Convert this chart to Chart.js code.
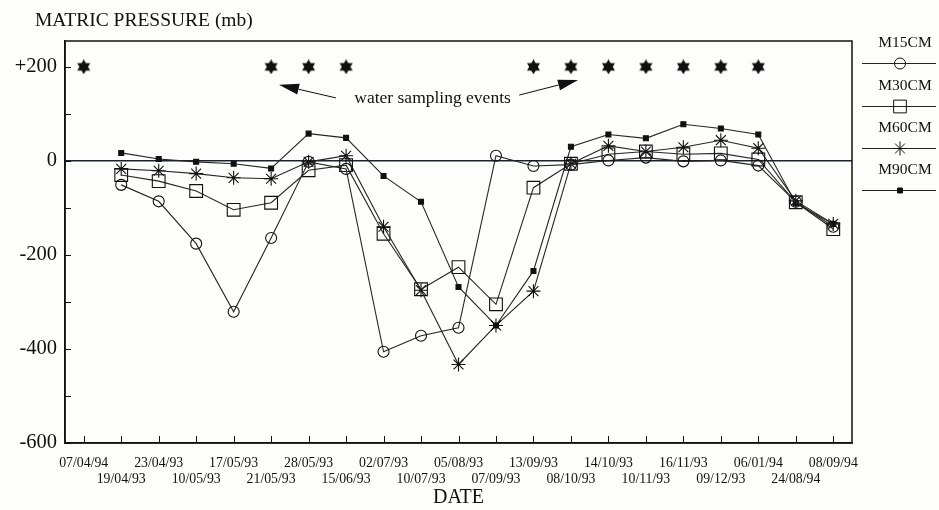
<!DOCTYPE html>
<html>
<head>
<meta charset="utf-8">
<script src="https://cdn.jsdelivr.net/npm/chart.js@4.4.0/dist/chart.umd.min.js"></script>
<style>
  html, body { margin: 0; padding: 0; background: #fdfdfb; }
  #wrap { width: 939px; height: 510px; }
</style>
</head>
<body>
<div id="wrap"><canvas id="linechart" width="939" height="510"></canvas></div>
<script>
// sampling dates (category axis)
var dates = ["07/04/94", "19/04/93", "23/04/93", "10/05/93", "17/05/93", "21/05/93", "28/05/93",
             "15/06/93", "02/07/93", "10/07/93", "05/08/93", "07/09/93", "13/09/93", "08/10/93",
             "14/10/93", "10/11/93", "16/11/93", "09/12/93", "06/01/94", "24/08/94", "08/09/94"];

// matric pressure (mb)
var m15 = [null, -51, -86, -176, -321, -164, -2, -17, -406, -372, -355, 11, -11, -8, 1, 7, -1, 1, -10, -87, -140];
var m30 = [null, -30, -43, -64, -104, -89, -20, -9, -155, -273, -226, -305, -57, -6, 14, 20, 14, 16, 3, -88, -145];
var m60 = [null, -17, -21, -27, -36, -38, -2, 11, -140, -275, -433, -350, -277, -6, 32, 20, 29, 44, 27, -85, -134];
var m90 = [null, 17, 4, -2, -6, -16, 58, 49, -32, -87, -268, -350, -234, 30, 56, 48, 78, 69, 56, -90, -134];

// water sampling events
var sampling = [200, null, null, null, null, 200, 200, 200, null, null, null, null,
                200, 200, 200, 200, 200, 200, 200, null, null];

var yTicks = [-600, -500, -400, -300, -200, -100, 0, 100, 200];

var serif = "'Liberation Serif', 'Times New Roman', serif";
var ink = "#101010";

// six pointed star for the sampling events
function makeStar(size) {
  var c = document.createElement("canvas");
  c.width = c.height = size;
  var g = c.getContext("2d");
  var r = size / 2;
  g.fillStyle = ink;
  [-90, 90].forEach(function(start) {
    g.beginPath();
    for (var j = 0; j < 3; j++) {
      var a = (start + j * 120) * Math.PI / 180;
      var px = r + r * Math.cos(a), py = r + r * Math.sin(a);
      if (j === 0) g.moveTo(px, py); else g.lineTo(px, py);
    }
    g.closePath();
    g.fill();
  });
  return c;
}
var starImg = makeStar(15);

function series(label, data, style, radius, fill) {
  return {
    label: label,
    data: data,
    borderColor: "#252525",
    borderWidth: 1.1,
    pointStyle: style,
    pointRadius: radius,
    pointHoverRadius: radius,
    pointBorderColor: ink,
    pointBorderWidth: 1.1,
    pointBackgroundColor: fill,
    tension: 0
  };
}

var bgPlugin = {
  id: "bg",
  beforeDraw: function(chart) {
    var c = chart.ctx;
    c.save();
    c.fillStyle = "#fdfdfb";
    c.fillRect(0, 0, chart.width, chart.height);
    c.restore();
  }
};

var decorPlugin = {
  id: "decor",
  afterDraw: function(chart) {
    var c = chart.ctx, a = chart.chartArea;
    var xs = chart.scales.x, ys = chart.scales.y;
    c.save();

    // frame
    c.strokeStyle = ink;
    c.lineWidth = 1.5;
    c.strokeRect(a.left, a.top, a.right - a.left, a.bottom - a.top);

    // inward tick marks
    c.lineWidth = 1;
    c.beginPath();
    for (var i = 0; i < dates.length; i++) {
      var px = Math.round(xs.getPixelForValue(i)) + 0.5;
      c.moveTo(px, a.bottom);
      c.lineTo(px, a.bottom - 7);
    }
    yTicks.forEach(function(v) {
      var py = Math.round(ys.getPixelForValue(v)) + 0.5;
      c.moveTo(a.left, py);
      c.lineTo(a.left + 6, py);
    });
    c.stroke();

    // title
    c.fillStyle = ink;
    c.font = "19.5px " + serif;
    c.textAlign = "left";
    c.textBaseline = "middle";
    c.fillText("MATRIC PRESSURE (mb)", 35, 21);

    // annotation
    c.font = "17.5px " + serif;
    c.textBaseline = "middle";
    var tx = xs.getPixelForValue(7.22), ty = ys.getPixelForValue(132);
    c.fillText("water sampling events", tx, ty);
    arrow(c, xs.getPixelForValue(6.73), ys.getPixelForValue(134), xs.getPixelForValue(5.21), ys.getPixelForValue(162));
    arrow(c, xs.getPixelForValue(11.62), ys.getPixelForValue(140), xs.getPixelForValue(13.19), ys.getPixelForValue(172));

    // legend: label above a line sample
    var lx0 = 862, lx1 = 936, mx = 900;
    var rows = [63, 106, 148, 190];
    c.font = "15.5px " + serif;
    c.textAlign = "center";
    for (var d = 0; d < 4; d++) {
      var ds = chart.data.datasets[d];
      var ly = rows[d];
      c.fillStyle = ink;
      c.fillText(ds.label, 905, ly - 20);
      c.strokeStyle = "#252525";
      c.lineWidth = 1;
      c.beginPath();
      c.moveTo(lx0, ly + 0.5);
      c.lineTo(lx1, ly + 0.5);
      c.stroke();
      c.strokeStyle = ink;
      c.fillStyle = ds.pointBackgroundColor;
      Chart.helpers.drawPoint(c, { pointStyle: ds.pointStyle, radius: ds.pointRadius, rotation: 0, borderWidth: 1 }, mx, ly + 0.5);
    }
    c.restore();
  }
};

function arrow(c, x0, y0, x1, y1) {
  var ang = Math.atan2(y1 - y0, x1 - x0);
  var len = 20, half = 5.5;
  var bx = x1 - len * Math.cos(ang), by = y1 - len * Math.sin(ang);
  c.strokeStyle = ink;
  c.lineWidth = 1;
  c.beginPath();
  c.moveTo(x0, y0);
  c.lineTo(bx, by);
  c.stroke();
  c.fillStyle = ink;
  c.beginPath();
  c.moveTo(x1, y1);
  c.lineTo(bx + half * Math.sin(ang), by - half * Math.cos(ang));
  c.lineTo(bx - half * Math.sin(ang), by + half * Math.cos(ang));
  c.closePath();
  c.fill();
}

var ctx = document.getElementById("linechart").getContext("2d");
var myLineChart = new Chart(ctx, {
  type: "line",
  data: {
    labels: dates,
    datasets: [
      series("M15CM", m15, "circle", 5.5, "rgba(255,255,255,0)"),
      series("M30CM", m30, "rect", 9, "rgba(255,255,255,0)"),
      series("M60CM", m60, "star", 7, ink),
      series("M90CM", m90, "rect", 3.5, ink),
      {
        label: "sampling",
        data: sampling,
        showLine: false,
        pointStyle: starImg,
        pointRadius: 7,
        borderColor: ink,
        backgroundColor: ink
      }
    ]
  },
  options: {
    responsive: false,
    devicePixelRatio: 1,
    animation: false,
    layout: { padding: { top: 41, right: 87, left: 0, bottom: 0 } },
    plugins: {
      legend: { display: false },
      tooltip: { enabled: false },
      title: { display: false }
    },
    scales: {
      x: {
        offset: true,
        afterFit: function(s) { s.height = 67; },
        grid: { display: false, drawTicks: false },
        border: { color: ink, width: 1.5 },
        ticks: {
          autoSkip: false,
          maxRotation: 0,
          minRotation: 0,
          padding: 12,
          color: ink,
          font: { family: serif, size: 13.8, lineHeight: 1.2 },
          callback: function(v, i) {
            var l = this.getLabelForValue(v);
            return i % 2 === 0 ? [l, ""] : ["", l];
          }
        },
        title: {
          display: true,
          text: "DATE",
          color: ink,
          padding: 0,
          font: { family: serif, size: 20 }
        }
      },
      y: {
        min: -600,
        max: 255,
        afterFit: function(s) { s.width = 65; },
        afterBuildTicks: function(s) {
          s.ticks = yTicks.map(function(v) { return { value: v }; });
        },
        border: { color: ink, width: 1.5 },
        grid: {
          drawTicks: false,
          lineWidth: 1.4,
          color: function(c) {
            return c.tick && c.tick.value === 0 ? "#1b2230" : "rgba(0,0,0,0)";
          }
        },
        ticks: {
          padding: 8,
          color: ink,
          font: { family: serif, size: 20.5 },
          callback: function(v) {
            if (v % 200 !== 0) return "";
            return v > 0 ? "+" + v : "" + v;
          }
        }
      }
    }
  },
  plugins: [bgPlugin, decorPlugin]
});
</script>
</body>
</html>
